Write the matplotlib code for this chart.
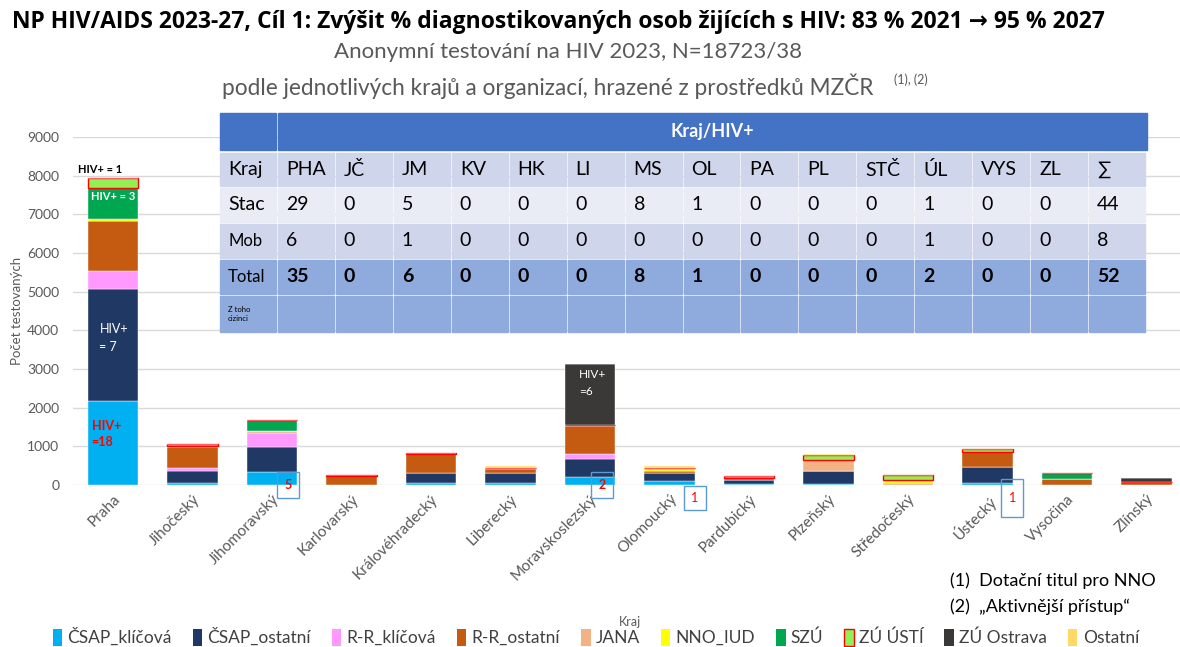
import numpy as np
import matplotlib.pyplot as plt
from matplotlib.patches import Rectangle, Patch

plt.rcParams['font.family'] = ['Lato', 'DejaVu Sans']

# kraje a hodnoty
kraje = ["Praha", "Jihočeský", "Jihomoravský", "Karlovarský", "Královéhradecký", "Liberecký",
         "Moravskoslezský", "Olomoucký", "Pardubický", "Plzeňský", "Středočeský", "Ústecký",
         "Vysočina", "Zlínský"]

csap_klic = [2180, 50, 340, 0, 60, 50, 215, 100, 20, 30, 0, 50, 0, 0]
csap_ost = [2900, 320, 630, 0, 260, 250, 455, 220, 100, 330, 0, 420, 0, 0]
rr_klic = [450, 80, 370, 0, 0, 0, 130, 0, 0, 0, 0, 0, 0, 0]
rr_ost = [1310, 540, 40, 240, 470, 110, 730, 40, 70, 0, 0, 390, 160, 80]
jana = [0, 0, 0, 0, 0, 0, 0, 0, 0, 290, 40, 0, 0, 0]
nno_iud = [30, 30, 20, 0, 0, 40, 20, 90, 0, 0, 90, 0, 0, 0]
szu = [800, 0, 290, 0, 0, 0, 0, 0, 0, 0, 0, 0, 140, 0]
zu_usti = [260, 50, 0, 20, 30, 0, 0, 0, 50, 130, 130, 80, 0, 0]
zu_ostrava = [0, 0, 0, 0, 0, 0, 1570, 0, 0, 0, 0, 0, 0, 90]
ostatni = [0, 0, 0, 0, 0, 50, 0, 40, 0, 30, 0, 0, 0, 0]

serie = [("ČSAP_klíčová", csap_klic, "#00B0F0"),
         ("ČSAP_ostatní", csap_ost, "#203864"),
         ("R-R_klíčová", rr_klic, "#FF99FF"),
         ("R-R_ostatní", rr_ost, "#C55A11"),
         ("JANA", jana, "#F4B183"),
         ("NNO_IUD", nno_iud, "#FFFF00"),
         ("SZÚ", szu, "#00A650"),
         ("ZÚ ÚSTÍ", zu_usti, "#92F055"),
         ("ZÚ Ostrava", zu_ostrava, "#3B3838"),
         ("Ostatní", ostatni, "#FFD966")]

# tabulka HIV+
tab_kraje = ["PHA", "JČ", "JM", "KV", "HK", "LI", "MS", "OL", "PA", "PL", "STČ", "ÚL", "VYS", "ZL", "∑"]
tab_stac = [29, 0, 5, 0, 0, 0, 8, 1, 0, 0, 0, 1, 0, 0, 44]
tab_mob = [6, 0, 1, 0, 0, 0, 0, 0, 0, 0, 0, 1, 0, 0, 8]
tab_total = [35, 0, 6, 0, 0, 0, 8, 1, 0, 0, 0, 2, 0, 0, 52]

# poznámky v boxech (index kraje, číslo, posun x, střed y, výška v px)
boxy = [(2, "5", 0.2, 0, 26), (6, "2", 0.15, 0, 26), (7, "1", 0.32, -336, 24), (11, "1", 0.31, -336, 38)]

fig = plt.figure(figsize=(11.8, 6.47), dpi=100)
W, H = 1180, 647
ax = fig.add_axes([73.25 / W, 1 - 485 / H, 1113 / W, 348 / H])

x = np.arange(len(kraje))
bottom = np.zeros(len(kraje))
for nazev, hodnoty, barva in serie:
    if nazev == "ZÚ ÚSTÍ":
        ax.bar(x, hodnoty, 0.63, bottom=bottom, color=barva, edgecolor="#FF0000", linewidth=1, zorder=3)
    else:
        ax.bar(x, hodnoty, 0.63, bottom=bottom, color=barva, edgecolor="white", linewidth=0.3, zorder=3)
    bottom += np.array(hodnoty)

ax.set_xlim(-0.5, len(kraje) - 0.5)
ax.set_ylim(0, 9000)
ax.set_yticks(range(0, 9001, 1000))
ax.yaxis.grid(True, color="#D9D9D9", linewidth=1, zorder=0)
for s in ax.spines.values():
    s.set_visible(False)
ax.tick_params(length=0, labelcolor="#595959")
ax.tick_params(axis="y", labelsize=10, pad=10)
ax.tick_params(axis="x", labelsize=11, pad=5)
ax.set_xticks(x)
ax.set_xticklabels(kraje, rotation=45, ha="right", rotation_mode="anchor")
ax.set_ylabel("Počet testovaných", fontsize=9.5, color="#595959", labelpad=3)
ax.set_xlabel("Kraj", fontsize=9, color="#595959", labelpad=24)

# popisky HIV+
ax.text(-0.44, 8060, "HIV+ = 1", fontsize=8, fontweight="bold", color="black", zorder=5)
ax.text(0, 7450, "HIV+ = 3", fontsize=8, fontweight="bold", color="white", ha="center", va="center", zorder=5)
ax.text(-0.17, 3790, "HIV+\n= 7", fontsize=9, color="white", va="center", zorder=5, linespacing=1.6)
ax.text(-0.27, 1330, "HIV+\n=18", fontsize=9, fontweight="bold", color="red", va="center", zorder=5,
        linespacing=1.4)
ax.text(5.86, 2640, "HIV+\n=6", fontsize=8.5, color="white", va="center", zorder=5, linespacing=1.6)

for i, txt, dx, yc, hpx in boxy:
    hh = hpx / 348 * 9000
    ww = 0.27
    ax.add_patch(Rectangle((i + dx - ww / 2, yc - hh / 2), ww, hh, fill=False, edgecolor="#5B9BD5",
                           linewidth=1, clip_on=False, zorder=6))
    ax.text(i + dx, yc, txt, fontsize=9, fontweight="bold" if txt != "1" else "normal", color="red",
            ha="center", va="center", zorder=6, clip_on=False)

# tabulka (pixelové souřadnice obrázku)
tx = fig.add_axes([0, 0, 1, 1], zorder=10)
tx.set_xlim(0, W)
tx.set_ylim(H, 0)
tx.axis("off")
x0, cw = 220, 927 / 16
radky = [(153, 33, "#CFD5EA"), (188, 34, "#E9EBF5"), (224, 34, "#CFD5EA"),
         (260, 34, "#8FAADC"), (296, 36, "#8FAADC")]
g = 2
tx.add_patch(Rectangle((x0, 113), cw - g, 37, color="#4472C4"))
tx.add_patch(Rectangle((x0 + cw, 113), 15 * cw, 37, color="#4472C4"))
tx.text(x0 + cw + 7.5 * cw, 131.5, "Kraj/HIV+", color="white", fontsize=13, fontweight="bold",
        ha="center", va="center")
popisky = ["Kraj", "Stac", "Mob", "Total", "Z toho\ncizinci"]
velikosti = [14, 14, 12, 12, 5.5]
obsah = [tab_kraje, tab_stac, tab_mob, tab_total, [""] * 15]
for r, (yy, hh, barva) in enumerate(radky):
    for c in range(16):
        tx.add_patch(Rectangle((x0 + c * cw, yy), cw - g, hh, color=barva))
    tx.text(x0 + 8, yy + hh / 2, popisky[r], fontsize=velikosti[r], va="center", color="black",
            linespacing=1.3)
    for c, v in enumerate(obsah[r]):
        tx.text(x0 + (c + 1) * cw + 8, yy + hh / 2, str(v), fontsize=14, va="center",
                fontweight="bold" if r == 3 else "normal")

# nadpisy
fig.text(12 / W, 1 - 22 / H, "NP HIV/AIDS 2023-27, Cíl 1: Zvýšit % diagnostikovaných osob žijících s HIV: 83 % 2021 → 95 % 2027",
         fontsize=16.5, fontweight="bold", va="center", family=["Open Sans", "DejaVu Sans"])
fig.text(568 / W, 1 - 52 / H, "Anonymní testování na HIV 2023, N=18723/38", fontsize=16,
         color="#595959", ha="center", va="center")
fig.text(222 / W, 1 - 86 / H, "podle jednotlivých krajů a organizací, hrazené z prostředků MZČR",
         fontsize=16.3, color="#595959", va="center")
fig.text(894 / W, 1 - 80 / H, "(1), (2)", fontsize=9, color="#595959", va="center")

fig.text(950 / W, 1 - 581 / H, "(1)  Dotační titul pro NNO", fontsize=13, va="center")
fig.text(950 / W, 1 - 607 / H, "(2)  „Aktivnější přístup“", fontsize=13, va="center")

# legenda
handles = []
for nazev, _, barva in serie:
    if nazev == "ZÚ ÚSTÍ":
        handles.append(Patch(facecolor=barva, edgecolor="#FF0000", label=nazev))
    else:
        handles.append(Patch(facecolor=barva, label=nazev))
fig.legend(handles=handles, loc="center", bbox_to_anchor=(0.505, 1 - 637 / H), ncol=10, frameon=False,
           fontsize=12.5, handlelength=0.55, handleheight=1.1, handletextpad=0.3, columnspacing=1.2,
           labelcolor="#404040")

fig.savefig("out.png", dpi=100)
